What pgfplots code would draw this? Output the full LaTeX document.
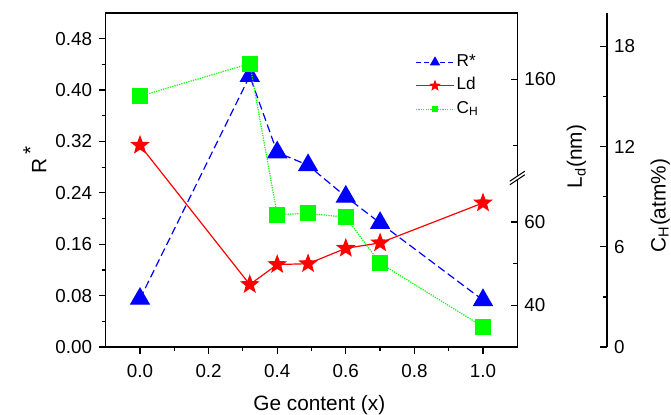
\documentclass[border=0pt]{standalone}
\usepackage{fontspec}
\setmainfont{Liberation Sans}
\usepackage{pgfplots}
\pgfplotsset{compat=1.18}
\pgfdeclareplotmark{fstar}{%
  \pgfpathmoveto{\pgfpointpolar{90}{\pgfplotmarksize}}%
  \pgfpathlineto{\pgfpointpolar{126}{0.42\pgfplotmarksize}}%
  \pgfpathlineto{\pgfpointpolar{162}{\pgfplotmarksize}}%
  \pgfpathlineto{\pgfpointpolar{198}{0.42\pgfplotmarksize}}%
  \pgfpathlineto{\pgfpointpolar{234}{\pgfplotmarksize}}%
  \pgfpathlineto{\pgfpointpolar{270}{0.42\pgfplotmarksize}}%
  \pgfpathlineto{\pgfpointpolar{306}{\pgfplotmarksize}}%
  \pgfpathlineto{\pgfpointpolar{342}{0.42\pgfplotmarksize}}%
  \pgfpathlineto{\pgfpointpolar{18}{\pgfplotmarksize}}%
  \pgfpathlineto{\pgfpointpolar{54}{0.42\pgfplotmarksize}}%
  \pgfpathclose
  \pgfusepathqfillstroke
}
\pgfplotsset{
  every axis/.append style={
    scale only axis, width=205.8pt, height=167pt,
    xmin=-0.1, xmax=1.1,
    /pgf/number format/assume math mode=true,
    tick label style={font=\fontsize{9.4}{11}\selectfont},
    label style={font=\fontsize{10.4}{12}\selectfont},
    major tick length=3.3pt, minor tick length=2pt,
    tick style={black, line width=0.6pt},
    axis line style={line width=0.6pt},
    every axis plot/.append style={line width=0.6pt},
  },
}
\begin{document}
\begin{tikzpicture}
\useasboundingbox (0pt,0pt) rectangle (335.5pt,207pt);
% ---------- main axis: R* ----------
\begin{axis}[at={(52.85pt,33.5pt)}, anchor=south west,
  ymin=0, ymax=0.52,
  ytick={0,0.08,0.16,0.24,0.32,0.40,0.48},
  xtick={0,0.2,0.4,0.6,0.8,1.0},
  scaled y ticks=false, scaled x ticks=false,
  yticklabel style={/pgf/number format/.cd, fixed, fixed zerofill, precision=2},
  xticklabel style={/pgf/number format/.cd, fixed, fixed zerofill, precision=1, /tikz/.cd, yshift=-2pt},
  minor x tick num=1, minor y tick num=1,
  tick align=outside, xtick pos=bottom, ytick pos=left,
  xlabel={Ge content (x)},
  ylabel={R\,\raisebox{0.8ex}{*}},
  xlabel style={at={(axis description cs:0.519,-0.189)}, anchor=base},
  ylabel style={at={(axis description cs:-0.172,0.56)}, anchor=center},
]
\addplot[blue, dash pattern=on 4pt off 2pt, mark=triangle*, mark size=5.3pt, mark options={solid}]
  coordinates {(0,0.075)(0.32,0.422)(0.4,0.303)(0.49,0.283)(0.6,0.234)(0.7,0.193)(1.0,0.073)};
\end{axis}
% ---------- L_d axis (broken) ----------
\begin{axis}[at={(52.85pt,33.5pt)}, anchor=south west,
  hide x axis, axis y line*=right,
  y coord trafo/.code={\pgfmathparse{(#1>100)?(70.5+0.794*(#1-130)):(#1)}},
  y coord inv trafo/.code={\pgfmathparse{(#1>70.5)?(130+(#1-70.5)/0.794):(#1)}},
  ymin=30, ymax=180,
  ytick={40,60,160}, yticklabels={40,60,160},
  minor ytick={50,140},
  tick align=inside,
  ylabel={L\textsubscript{d}(nm)},
  ylabel style={at={(axis description cs:1.144,0.57)}, anchor=center},
]
\addplot[red, mark=fstar, mark size=4.3pt, mark options={fill=red, solid}]
  coordinates {(0,140)(0.32,45)(0.4,49.8)(0.49,50)(0.6,53.7)(0.7,55)(1.0,64.6)};
\path (rel axis cs:1,0.506) coordinate (brk);
\end{axis}
\draw[white, line width=1.7pt] ([shift={(-2.5pt,-1.67pt)}]brk) -- ([shift={(2.5pt,1.67pt)}]brk);
\draw[black, line width=0.5pt] ([shift={(-3.75pt,-3.4pt)}]brk) -- ([shift={(3.75pt,1.6pt)}]brk);
\draw[black, line width=0.5pt] ([shift={(-3.75pt,-1.6pt)}]brk) -- ([shift={(3.75pt,3.4pt)}]brk);
% ---------- C_H axis ----------
\begin{axis}[at={(52.85pt,33.5pt)}, anchor=south west,
  width=250.65pt, xmin=-0.1, xmax=1.3615,
  hide x axis, axis y line*=right,
  ymin=0, ymax=20,
  ytick={0,6,12,18}, minor y tick num=1,
  tick align=inside,
  ylabel={C\textsubscript{H}(atm\%)},
  ylabel style={at={(axis description cs:1.106,0.423)}, anchor=center},
  legend image code/.code={\draw[mark repeat=2,mark phase=2] plot coordinates {(0pt,0pt)(9.5pt,0pt)(19pt,0pt)};},
  legend style={draw=none, fill=none, at={(axis description cs:0.617,0.885)}, anchor=north west,
    inner xsep=0pt, inner ysep=0pt, row sep=1.2pt,
    nodes={inner sep=1pt, text height=6.3pt, text depth=2.2pt},
    font=\fontsize{8.6}{10}\selectfont},
  legend cell align=left,
]
\addlegendimage{blue, line width=0.6pt, dash pattern=on 2.5pt off 1.5pt, mark=triangle*, mark size=2.4pt, mark options={solid}}
\addlegendentry{R*}
\addlegendimage{red, line width=0.6pt, mark=fstar, mark size=2.2pt, mark options={fill=red, solid}}
\addlegendentry{Ld}
\addlegendimage{green, line width=0.6pt, dash pattern=on 0.6pt off 0.6pt, mark=square*, mark size=1.35pt, mark options={solid}}
\addlegendentry{C\textsubscript{H}}
\addplot[green, dash pattern=on 0.6pt off 0.6pt, mark=square*, mark size=3.7pt, mark options={solid}, forget plot]
  coordinates {(0,15.02)(0.32,16.97)(0.4,7.93)(0.49,8.0)(0.6,7.77)(0.7,5.02)(1.0,1.21)};
\end{axis}
\end{tikzpicture}
\end{document}
